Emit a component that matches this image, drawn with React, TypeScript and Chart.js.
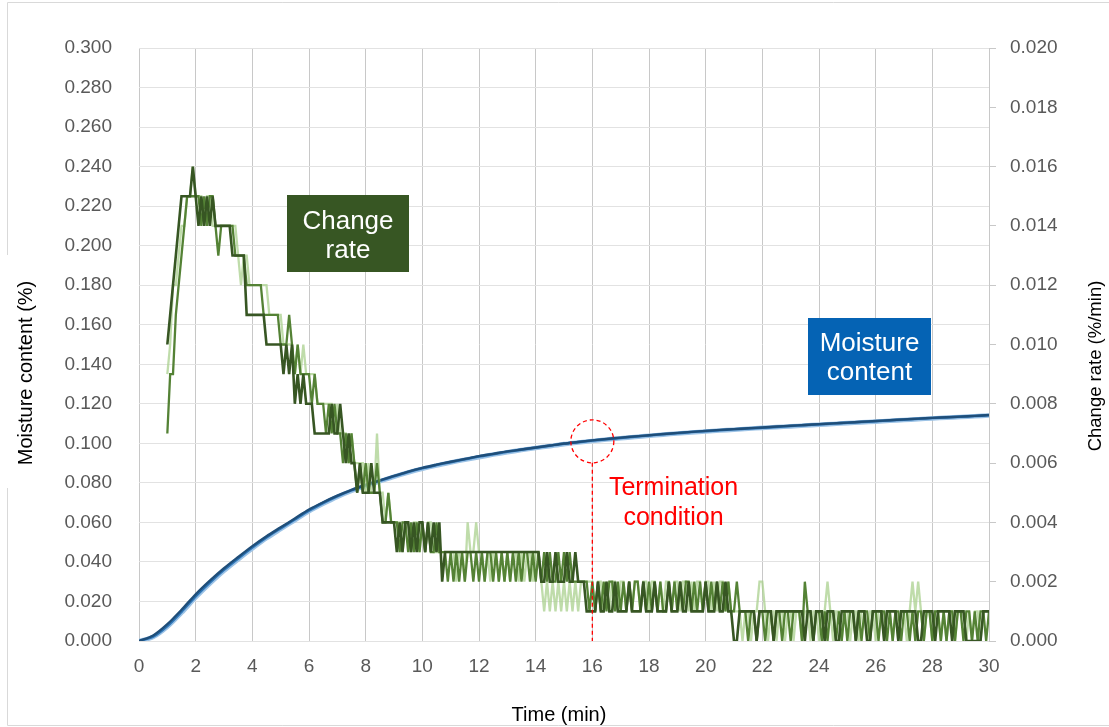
import React, { useEffect, useRef } from "react";
import { Chart, registerables } from "chart.js";

Chart.register(...registerables);

// ---- Moisture content (%), sampled every 0.5 min from 0 to 30 min ----
const moistureTimes = [
  0, 0.5, 1, 1.5, 2, 2.5, 3, 3.5, 4, 4.5, 5, 5.5, 6, 6.5, 7, 7.5, 8, 8.5, 9, 9.5,
  10, 10.5, 11, 11.5, 12, 12.5, 13, 13.5, 14, 14.5, 15, 15.5, 16, 16.5, 17, 17.5,
  18, 18.5, 19, 19.5, 20, 20.5, 21, 21.5, 22, 22.5, 23, 23.5, 24, 24.5, 25, 25.5,
  26, 26.5, 27, 27.5, 28, 28.5, 29, 29.5, 30,
];
const moistureRun1 = [
  0, 0.0028, 0.0085, 0.0158, 0.0236, 0.0305, 0.0368, 0.0425, 0.048, 0.053,
  0.0575, 0.062, 0.0665, 0.0702, 0.0735, 0.0765, 0.079, 0.0813, 0.0835, 0.0857,
  0.0876, 0.0892, 0.0907, 0.0921, 0.0935, 0.0947, 0.0959, 0.0969, 0.0979, 0.0989,
  0.0999, 0.1007, 0.1015, 0.1022, 0.1029, 0.1035, 0.1041, 0.1047, 0.1053, 0.1058,
  0.1063, 0.1068, 0.1072, 0.1076, 0.108, 0.1085, 0.1089, 0.1093, 0.1097, 0.1101,
  0.1105, 0.1109, 0.1113, 0.1117, 0.1121, 0.1125, 0.1129, 0.1132, 0.1135, 0.1139,
  0.1143,
];
const moistureRun2 = [
  0, 0.0022, 0.0076, 0.0148, 0.0226, 0.0296, 0.036, 0.0418, 0.0473, 0.0524,
  0.057, 0.0615, 0.066, 0.0698, 0.0732, 0.0762, 0.0787, 0.0811, 0.0833, 0.0855,
  0.0874, 0.089, 0.0905, 0.0919, 0.0933, 0.0945, 0.0957, 0.0968, 0.0978, 0.0988,
  0.0998, 0.1006, 0.1014, 0.1021, 0.1027, 0.1034, 0.104, 0.1046, 0.1051, 0.1057,
  0.1062, 0.1066, 0.1071, 0.1075, 0.1079, 0.1083, 0.1088, 0.1092, 0.1096, 0.11,
  0.1104, 0.1108, 0.1112, 0.1116, 0.112, 0.1124, 0.1128, 0.1131, 0.1135, 0.1138,
  0.1142,
];
const moistureRun3 = [
  0, 0.002, 0.0072, 0.0143, 0.022, 0.029, 0.0355, 0.0413, 0.0468, 0.052,
  0.0566, 0.0611, 0.0656, 0.0694, 0.0729, 0.0759, 0.0785, 0.0808, 0.0831, 0.0852,
  0.0871, 0.0888, 0.0903, 0.0917, 0.093, 0.0943, 0.0955, 0.0966, 0.0976, 0.0986,
  0.0996, 0.1004, 0.1012, 0.1019, 0.1026, 0.1032, 0.1038, 0.1044, 0.105, 0.1055,
  0.106, 0.1065, 0.1069, 0.1074, 0.1078, 0.1082, 0.1086, 0.109, 0.1094, 0.1098,
  0.1102, 0.1106, 0.111, 0.1114, 0.1118, 0.1122, 0.1126, 0.113, 0.1133, 0.1137,
  0.1141,
];

// ---- Change rate, in units of 0.001 %/min, sampled every 0.1 min from 1.0 to 30.0 min ----
const rateStartMin = 1.0;
const rateStepMin = 0.1;
const rateRun1 = [
  10, 11, 12, 13, 14, 15, 15, 15, 15, 16, // 1
  15, 14, 15, 14, 15, 14, 15, 14, 14, 14, // 2
  14, 14, 14, 13, 13, 13, 13, 13, 11, 11, // 3
  11, 11, 11, 11, 11, 10, 10, 10, 10, 10, // 4
  10, 9, 10, 9, 10, 8, 9, 8, 9, 8, // 5
  8, 8, 7, 7, 7, 7, 7, 7, 8, 7, // 6
  7, 8, 7, 6, 7, 6, 6, 5, 6, 5, // 7
  5, 5, 6, 5, 5, 5, 4, 4, 4, 4, // 8
  4, 3, 4, 3, 4, 4, 3, 4, 3, 4, // 9
  4, 3, 4, 3, 4, 3, 4, 2, 3, 3, // 10
  3, 3, 3, 3, 3, 3, 3, 3, 3, 3, // 11
  3, 3, 3, 3, 3, 3, 3, 3, 3, 3, // 12
  3, 3, 3, 3, 3, 3, 3, 3, 3, 3, // 13
  3, 3, 2, 2, 3, 2, 2, 3, 2, 2, // 14
  2, 3, 2, 2, 3, 2, 2, 2, 1, 1, // 15
  1, 1, 2, 1, 1, 2, 1, 1, 2, 1, // 16
  1, 1, 1, 2, 1, 1, 1, 1, 2, 1, // 17
  1, 1, 2, 1, 1, 1, 1, 2, 1, 1, // 18
  1, 2, 1, 1, 2, 1, 1, 1, 1, 1, // 19
  2, 1, 1, 1, 2, 1, 1, 2, 1, 1, // 20
  0, 0, 1, 1, 1, 1, 1, 1, 0, 1, // 21
  1, 1, 1, 1, 0, 1, 1, 1, 1, 1, // 22
  1, 1, 1, 1, 1, 0, 1, 1, 0, 1, // 23
  1, 1, 0, 1, 1, 1, 0, 0, 1, 1, // 24
  1, 1, 1, 0, 1, 1, 1, 0, 0, 1, // 25
  1, 1, 1, 0, 1, 1, 1, 1, 0, 1, // 26
  1, 1, 1, 1, 1, 0, 0, 1, 1, 1, // 27
  1, 0, 1, 1, 1, 1, 1, 0, 1, 1, // 28
  1, 1, 0, 0, 0, 0, 0, 0, 1, 1, // 29
  1, // 30
];
const rateRun2 = [
  7, 9, 9, 11, 12, 13, 14, 15, 15, 15, // 1
  15, 15, 14, 15, 14, 15, 15, 14, 13, 14, // 2
  14, 14, 14, 14, 13, 13, 13, 13, 12, 12, // 3
  12, 12, 12, 12, 11, 11, 11, 11, 11, 11, // 4
  10, 10, 10, 11, 10, 9, 10, 9, 9, 9, // 5
  9, 8, 9, 8, 8, 8, 7, 8, 7, 8, // 6
  7, 7, 6, 7, 6, 7, 6, 5, 6, 5, // 7
  6, 5, 5, 5, 6, 5, 4, 4, 5, 4, // 8
  4, 4, 3, 4, 4, 3, 4, 3, 4, 3, // 9
  4, 3, 4, 3, 3, 4, 3, 3, 3, 2, // 10
  3, 2, 3, 2, 3, 2, 3, 3, 2, 3, // 11
  2, 3, 2, 3, 3, 2, 3, 2, 3, 2, // 12
  3, 2, 3, 2, 3, 2, 3, 3, 2, 3, // 13
  2, 3, 2, 3, 2, 3, 2, 2, 3, 2, // 14
  3, 2, 3, 2, 2, 2, 2, 2, 2, 1, // 15
  2, 1, 2, 1, 2, 1, 2, 2, 1, 2, // 16
  1, 2, 1, 2, 1, 2, 2, 1, 2, 1, // 17
  2, 1, 2, 1, 2, 1, 1, 2, 1, 2, // 18
  1, 2, 1, 2, 2, 1, 2, 1, 2, 1, // 19
  2, 1, 2, 1, 2, 1, 2, 1, 2, 1, // 20
  1, 2, 1, 1, 1, 0, 1, 1, 0, 1, // 21
  1, 0, 1, 1, 0, 1, 1, 0, 1, 1, // 22
  0, 1, 1, 1, 0, 2, 1, 1, 0, 1, // 23
  1, 0, 1, 0, 1, 1, 0, 1, 0, 1, // 24
  0, 1, 1, 0, 1, 0, 1, 1, 0, 1, // 25
  1, 0, 1, 1, 0, 1, 0, 1, 1, 0, // 26
  1, 1, 0, 1, 0, 1, 1, 0, 1, 1, // 27
  0, 1, 1, 0, 1, 0, 1, 1, 0, 1, // 28
  1, 0, 1, 1, 0, 1, 0, 1, 1, 0, // 29
  1, // 30
];
const rateRun3 = [
  9, 10, 12, 12, 13, 14, 14, 15, 15, 16, // 1
  15, 15, 15, 14, 15, 15, 14, 14, 14, 14, // 2
  14, 14, 14, 14, 14, 13, 12, 13, 13, 12, // 3
  12, 12, 12, 12, 12, 12, 11, 11, 11, 11, // 4
  11, 10, 10, 10, 10, 9, 10, 9, 10, 9, // 5
  9, 9, 9, 8, 8, 8, 8, 8, 8, 7, // 6
  8, 7, 7, 7, 6, 7, 6, 6, 6, 6, // 7
  5, 6, 5, 5, 7, 5, 5, 4, 5, 4, // 8
  4, 4, 4, 3, 4, 4, 3, 4, 4, 3, // 9
  4, 3, 4, 4, 3, 3, 3, 3, 3, 3, // 10
  3, 3, 2, 3, 3, 2, 4, 3, 3, 4, // 11
  3, 3, 2, 3, 2, 3, 3, 2, 3, 2, // 12
  3, 2, 3, 3, 2, 3, 2, 3, 3, 2, // 13
  3, 3, 2, 1, 2, 1, 2, 1, 2, 1, // 14
  2, 1, 2, 1, 2, 1, 2, 2, 2, 2, // 15
  2, 1, 2, 2, 1, 2, 1, 2, 2, 1, // 16
  2, 2, 1, 2, 1, 2, 2, 1, 2, 2, // 17
  1, 2, 2, 1, 2, 1, 2, 2, 1, 2, // 18
  2, 1, 2, 2, 1, 2, 1, 2, 2, 1, // 19
  2, 2, 1, 2, 1, 2, 2, 1, 2, 1, // 20
  1, 1, 1, 0, 1, 1, 0, 1, 1, 2, // 21
  2, 1, 0, 1, 1, 0, 1, 1, 0, 1, // 22
  1, 0, 1, 1, 0, 1, 1, 0, 1, 1, // 23
  0, 1, 1, 2, 1, 0, 1, 1, 0, 1, // 24
  1, 0, 1, 1, 0, 1, 1, 0, 1, 1, // 25
  0, 1, 1, 0, 1, 1, 0, 1, 0, 1, // 26
  1, 0, 1, 2, 1, 2, 1, 0, 1, 1, // 27
  0, 1, 1, 0, 1, 0, 1, 1, 0, 1, // 28
  1, 1, 0, 1, 0, 1, 1, 0, 1, 1, // 29
  1, // 30
];
const rateUnit = 0.001; // %/min per stored unit

// ---- Axes ----
const timeRange = [0, 30];
const timeStep = 2;
const moistureRange = [0, 0.3];
const moistureStep = 0.02;
const rateRange = [0, 0.02];
const rateStep = 0.002;

// Termination marker (time, moisture)
const terminationTime = 16;
const terminationMoisture = 0.101;

const FONT = '"Liberation Sans", Arial, Helvetica, sans-serif';
const TICK_COLOR = "#595959";

const toPoints = (xs: number[], ys: number[]) => ys.map((y, i) => ({ x: xs[i], y }));
const ratePoints = (vals: number[]) =>
  vals.map((v, i) => ({ x: +(rateStartMin + i * rateStepMin).toFixed(1), y: v * rateUnit }));

const overlayPlugin = {
  id: "overlay",
  afterDatasetsDraw(chart: any) {
    const { ctx, scales } = chart;
    const x = scales.x;
    const y = scales.yMoisture;
    const cx = x.getPixelForValue(terminationTime);
    const cy = y.getPixelForValue(terminationMoisture);
    const r = 21.5;
    ctx.save();
    ctx.strokeStyle = "#FF0000";
    ctx.lineWidth = 1.3;
    ctx.setLineDash([4, 3]);
    ctx.beginPath();
    ctx.arc(cx, cy, r, 0, Math.PI * 2);
    ctx.stroke();
    ctx.beginPath();
    ctx.moveTo(cx, cy + r);
    ctx.lineTo(cx, y.getPixelForValue(0));
    ctx.stroke();
    ctx.restore();
  },
  afterDraw(chart: any) {
    const { ctx } = chart;
    ctx.save();

    // outer frame
    ctx.strokeStyle = "#D9D9D9";
    ctx.lineWidth = 1;
    ctx.beginPath();
    ctx.moveTo(7.5, 2.5);
    ctx.lineTo(1109, 2.5);
    ctx.moveTo(7.5, 2.5);
    ctx.lineTo(7.5, 255);
    ctx.moveTo(7.5, 488);
    ctx.lineTo(7.5, 725.5);
    ctx.lineTo(1109, 725.5);
    ctx.stroke();

    // axis titles
    ctx.fillStyle = "#000000";
    ctx.textAlign = "center";
    ctx.textBaseline = "middle";
    ctx.font = `20px ${FONT}`;
    ctx.fillText("Time (min)", 559, 715);
    ctx.save();
    ctx.translate(26, 373);
    ctx.rotate(-Math.PI / 2);
    ctx.fillText("Moisture content (%)", 0, 0);
    ctx.restore();
    ctx.font = `18.5px ${FONT}`;
    ctx.save();
    ctx.translate(1096, 366);
    ctx.rotate(-Math.PI / 2);
    ctx.fillText("Change rate (%/min)", 0, 0);
    ctx.restore();

    // labelled boxes
    const box = (x0: number, y0: number, w: number, h: number, fill: string, lines: string[], baselines: number[]) => {
      ctx.fillStyle = fill;
      ctx.fillRect(x0, y0, w, h);
      ctx.fillStyle = "#FFFFFF";
      ctx.font = `26px ${FONT}`;
      ctx.textAlign = "center";
      ctx.textBaseline = "alphabetic";
      lines.forEach((t, i) => ctx.fillText(t, x0 + w / 2, baselines[i]));
    };
    box(287, 195, 122, 77, "#375623", ["Change", "rate"], [228.5, 257.5]);
    box(808, 318, 123, 77, "#0563B4", ["Moisture", "content"], [350.5, 380]);

    // termination note
    ctx.fillStyle = "#FF0000";
    ctx.font = `25px ${FONT}`;
    ctx.textAlign = "center";
    ctx.textBaseline = "alphabetic";
    ctx.fillText("Termination", 673.5, 494.5);
    ctx.fillText("condition", 673.5, 524.5);

    ctx.restore();
  },
};

export default function App() {
  const canvasRef = useRef<HTMLCanvasElement | null>(null);

  useEffect(() => {
    const canvas = canvasRef.current;
    if (!canvas) return;

    const rateLine = (label: string, vals: number[], color: string, width: number) => ({
      label,
      data: ratePoints(vals),
      yAxisID: "yRate",
      borderColor: color,
      borderWidth: width,
      pointRadius: 0,
      tension: 0,
      fill: false,
    });
    const moistureLine = (label: string, vals: number[], color: string, width: number) => ({
      label,
      data: toPoints(moistureTimes, vals),
      yAxisID: "yMoisture",
      borderColor: color,
      borderWidth: width,
      pointRadius: 0,
      tension: 0.3,
      fill: false,
    });

    const chart = new Chart(canvas, {
      type: "line",
      data: {
        datasets: [
          // first dataset is painted on top
          rateLine("Change rate 1", rateRun1, "#375623", 2.6),
          rateLine("Change rate 2", rateRun2, "#548235", 2.3),
          rateLine("Change rate 3", rateRun3, "rgba(169,208,142,0.75)", 2.3),
          moistureLine("Moisture content 1", moistureRun1, "#1F4E79", 2.4),
          moistureLine("Moisture content 2", moistureRun2, "#2E75B6", 2.6),
          moistureLine("Moisture content 3", moistureRun3, "#9DC3E6", 4.6),
        ] as any,
      },
      options: {
        animation: false,
        responsive: false,
        devicePixelRatio: 1,
        parsing: false,
        layout: { padding: { top: 48, left: 0, right: 0, bottom: 0 } },
        plugins: {
          legend: { display: false },
          title: { display: false },
          tooltip: { enabled: false },
        },
        scales: {
          x: {
            type: "linear",
            min: timeRange[0],
            max: timeRange[1],
            ticks: {
              stepSize: timeStep,
              color: TICK_COLOR,
              font: { family: FONT, size: 19 },
              padding: 14,
              maxRotation: 0,
              autoSkip: false,
            },
            grid: { color: "#C8C8C8", drawTicks: false, lineWidth: 1 },
            border: { display: false },
            afterFit: (s: any) => {
              s.height = 86;
            },
          },
          yMoisture: {
            type: "linear",
            position: "left",
            min: moistureRange[0],
            max: moistureRange[1],
            ticks: {
              stepSize: moistureStep,
              color: TICK_COLOR,
              font: { family: FONT, size: 19 },
              padding: 27,
              callback: (v: any) => Number(v).toFixed(3),
            },
            grid: { color: "#E2E2E2", drawTicks: false, lineWidth: 1 },
            border: { display: false },
            afterFit: (s: any) => {
              s.width = 139;
            },
          },
          yRate: {
            type: "linear",
            position: "right",
            min: rateRange[0],
            max: rateRange[1],
            ticks: {
              stepSize: rateStep,
              color: TICK_COLOR,
              font: { family: FONT, size: 19 },
              padding: 14,
              callback: (v: any) => Number(v).toFixed(3),
            },
            grid: { drawOnChartArea: false, drawTicks: true, tickLength: 7, color: "#C8C8C8" },
            border: { display: false },
            afterFit: (s: any) => {
              s.width = 120;
            },
          },
        },
      } as any,
      plugins: [overlayPlugin],
    });

    return () => chart.destroy();
  }, []);

  return (
    <div style={{ position: "absolute", left: 0, top: 0, width: 1109, height: 727, background: "#FFFFFF" }}>
      <canvas ref={canvasRef} width={1109} height={727} />
    </div>
  );
}
